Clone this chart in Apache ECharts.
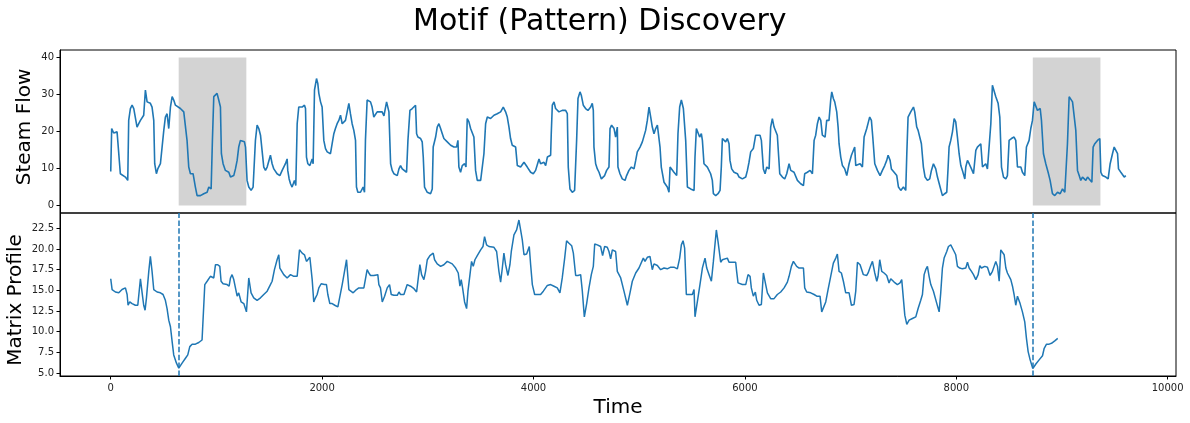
<!DOCTYPE html>
<html>
<head>
<meta charset="utf-8">
<title>Motif (Pattern) Discovery</title>
<script src="https://cdn.jsdelivr.net/npm/echarts@6/dist/echarts.min.js"></script>
<style>
    html, body { margin: 0; padding: 0; background: #fff; }
    #chart { width: 1190px; height: 423px; }
</style>
</head>
<body>
<div id="chart"></div>
<script>
// steam flow: [time, flow]
var steamFlow = [
    [0,9.2],[9,20.8],[28,19.6],[60,19.9],[76,20.1],[91,8.6],[107,8.1],[139,7.7],[161,6.8],[170,23.0],
    [186,26.2],[202,27.1],[218,26.2],[233,25.7],[249,21.2],[265,22.1],[281,23.0],[297,23.5],[312,24.4],[328,31.2],
    [338,31.6],[344,28.0],[375,27.6],[391,26.6],[407,23.0],[416,11.3],[432,8.6],[445,9.9],[470,11.3],[486,15.8],
    [502,20.3],[517,23.9],[533,24.8],[549,20.8],[565,26.6],[581,29.4],[596,28.5],[612,27.1],[628,26.6],[659,26.2],
    [691,25.3],[707,24.8],[722,17.6],[738,10.4],[754,8.6],[779,8.6],[801,5.0],[817,2.7],[849,2.7],[880,3.2],
    [912,3.6],[928,5.0],[950,4.5],[962,17.6],[975,29.4],[991,29.8],[1006,30.3],[1022,28.5],[1038,26.6],[1047,14.0],
    [1063,11.3],[1085,9.5],[1101,9.9],[1117,9.0],[1133,7.7],[1164,8.1],[1180,9.9],[1196,12.2],[1211,15.8],[1227,17.6],
    [1243,18.1],[1265,17.2],[1275,15.8],[1290,6.8],[1306,5.0],[1328,4.1],[1347,5.0],[1360,5.0],[1369,17.6],[1385,21.7],
    [1401,20.8],[1417,19.0],[1432,18.5],[1448,10.4],[1464,9.5],[1480,10.4],[1495,9.9],[1511,13.6],[1527,11.3],[1543,9.9],
    [1559,9.5],[1574,8.6],[1600,8.1],[1622,9.5],[1637,10.4],[1653,11.3],[1669,12.6],[1675,9.5],[1688,7.2],[1701,5.9],
    [1716,5.0],[1738,6.8],[1751,5.4],[1764,22.1],[1779,26.6],[1795,27.1],[1811,26.6],[1833,27.1],[1843,26.2],[1852,13.1],
    [1865,11.3],[1884,10.8],[1906,12.6],[1915,11.3],[1928,31.2],[1947,34.3],[1959,33.0],[1969,30.3],[1985,28.0],[2000,26.6],
    [2016,17.6],[2032,15.4],[2048,14.5],[2079,14.0],[2095,16.7],[2111,19.4],[2126,20.8],[2142,22.1],[2158,23.0],[2174,24.4],
    [2190,22.1],[2205,22.6],[2221,23.0],[2237,25.3],[2253,27.6],[2268,24.8],[2284,22.1],[2300,20.3],[2316,17.6],[2325,5.0],
    [2338,3.6],[2363,3.6],[2388,5.0],[2401,3.6],[2410,17.6],[2426,28.5],[2442,28.9],[2458,28.0],[2473,26.6],[2489,23.9],
    [2505,24.4],[2521,25.3],[2537,24.8],[2568,25.3],[2585,24.2],[2610,28.0],[2632,25.3],[2648,11.3],[2663,9.5],[2679,8.6],
    [2711,8.1],[2727,9.9],[2742,10.8],[2758,9.9],[2774,10.4],[2799,9.0],[2812,17.6],[2831,25.7],[2853,26.2],[2869,26.6],
    [2884,27.1],[2894,19.4],[2906,18.5],[2932,18.1],[2947,17.2],[2957,13.1],[2969,5.0],[2995,3.6],[3026,3.2],[3042,4.5],
    [3051,15.8],[3074,18.5],[3089,21.2],[3105,22.1],[3121,20.8],[3137,19.4],[3152,18.1],[3184,17.2],[3216,16.3],[3247,15.8],
    [3272,15.8],[3285,17.6],[3294,10.4],[3310,9.0],[3326,10.8],[3348,11.3],[3361,10.4],[3373,23.5],[3389,22.6],[3405,20.8],
    [3436,18.5],[3452,9.5],[3468,6.8],[3500,6.8],[3515,7.2],[3531,14.0],[3547,22.1],[3563,23.9],[3594,23.5],[3626,24.4],
    [3657,24.8],[3689,25.3],[3714,26.6],[3736,25.3],[3752,23.9],[3768,21.2],[3783,18.1],[3799,16.3],[3815,15.8],[3831,15.8],
    [3847,10.8],[3878,10.4],[3910,11.7],[3941,10.4],[3973,9.0],[3998,8.6],[4020,9.5],[4052,12.6],[4067,11.3],[4099,11.7],
    [4115,10.8],[4131,13.1],[4162,13.6],[4168,19.4],[4178,27.1],[4194,28.0],[4209,26.2],[4241,25.3],[4272,25.7],[4288,26.2],
    [4304,25.7],[4320,24.8],[4329,10.4],[4345,4.5],[4367,3.6],[4389,4.1],[4408,17.6],[4421,28.9],[4440,30.7],[4452,29.8],
    [4471,27.1],[4493,26.2],[4515,25.7],[4541,26.6],[4556,27.6],[4566,25.7],[4572,15.8],[4588,11.3],[4604,9.9],[4620,9.0],
    [4642,7.2],[4657,6.8],[4673,8.1],[4692,9.5],[4714,10.4],[4724,20.8],[4739,21.7],[4762,20.8],[4777,18.5],[4793,21.2],
    [4799,10.4],[4818,8.6],[4840,7.2],[4866,6.8],[4881,8.1],[4903,9.5],[4926,10.4],[4951,9.9],[4967,12.2],[4982,14.5],
    [5008,15.8],[5030,17.2],[5045,17.6],[5061,20.3],[5077,23.0],[5093,26.6],[5109,23.9],[5124,21.2],[5140,19.4],[5156,20.8],
    [5172,21.7],[5187,21.2],[5197,15.8],[5209,10.4],[5235,6.3],[5251,5.9],[5266,5.0],[5282,3.6],[5292,10.4],[5304,10.8],
    [5329,9.0],[5355,8.1],[5367,19.4],[5383,26.6],[5399,28.5],[5418,26.2],[5430,25.7],[5440,17.6],[5456,5.0],[5487,4.5],
    [5519,4.1],[5528,13.1],[5541,20.8],[5557,20.3],[5572,18.5],[5588,19.4],[5598,17.6],[5613,11.3],[5645,10.4],[5676,8.6],
    [5692,6.8],[5702,3.2],[5724,2.7],[5746,3.2],[5765,4.1],[5777,10.4],[5787,18.1],[5803,18.5],[5818,17.2],[5834,18.1],
    [5850,16.7],[5859,12.2],[5875,9.9],[5897,9.0],[5929,8.6],[5945,7.7],[5976,7.2],[6008,7.7],[6024,9.5],[6039,11.7],
    [6055,14.5],[6080,15.4],[6102,19.0],[6118,19.4],[6143,19.0],[6156,17.6],[6175,9.9],[6191,8.6],[6207,10.4],[6229,9.9],
    [6244,21.2],[6260,23.5],[6276,21.2],[6307,19.0],[6330,8.6],[6355,7.7],[6377,7.2],[6396,8.6],[6418,11.3],[6434,9.5],
    [6465,9.0],[6481,8.6],[6497,6.8],[6528,5.9],[6554,5.4],[6566,8.6],[6591,9.0],[6617,9.5],[6639,8.6],[6655,17.6],
    [6670,19.0],[6686,22.1],[6702,23.9],[6718,23.0],[6733,19.0],[6759,18.5],[6774,23.0],[6796,23.0],[6812,28.5],[6822,30.7],
    [6837,28.9],[6850,28.0],[6869,25.3],[6882,21.2],[6891,16.7],[6907,13.1],[6923,10.8],[6945,9.9],[6964,8.1],[6986,11.3],
    [7008,13.6],[7024,14.0],[7039,15.8],[7049,10.8],[7065,10.4],[7090,11.3],[7112,10.4],[7128,18.5],[7153,20.8],[7169,22.6],
    [7181,23.9],[7197,23.0],[7210,18.5],[7229,11.3],[7254,9.5],[7279,8.1],[7301,9.5],[7323,10.8],[7342,12.2],[7355,13.6],
    [7374,12.2],[7386,9.9],[7412,9.0],[7437,8.1],[7453,5.0],[7475,4.1],[7500,5.0],[7522,4.1],[7532,14.0],[7544,23.9],
    [7569,25.3],[7595,26.6],[7607,25.3],[7626,21.2],[7639,20.3],[7658,18.1],[7670,16.7],[7689,10.4],[7705,7.7],[7727,6.8],
    [7749,7.2],[7765,9.5],[7784,11.3],[7806,9.9],[7822,7.7],[7847,5.0],[7869,2.7],[7891,3.2],[7910,3.6],[7923,10.4],
    [7932,15.8],[7948,17.6],[7964,19.9],[7980,23.5],[7995,22.6],[8011,18.5],[8027,14.0],[8043,10.8],[8058,9.5],[8081,7.2],
    [8090,10.4],[8106,12.2],[8122,11.3],[8144,9.9],[8163,8.6],[8185,14.9],[8200,15.8],[8216,16.3],[8232,16.7],[8248,10.4],
    [8264,10.4],[8279,11.3],[8295,9.9],[8311,10.4],[8327,22.1],[8342,32.5],[8358,32.5],[8374,29.4],[8396,27.6],[8412,23.9],
    [8428,10.4],[8447,7.7],[8469,7.2],[8484,8.1],[8500,17.6],[8522,18.1],[8547,18.5],[8563,17.6],[8579,10.4],[8595,9.9],
    [8611,10.4],[8626,9.0],[8648,8.1],[8664,15.8],[8689,17.6],[8705,20.8],[8721,23.0],[8737,28.0],[8753,27.6],[8768,25.7],
    [8794,26.2],[8806,23.0],[8825,14.0],[8847,11.3],[8869,9.0],[8888,6.8],[8910,3.2],[8932,2.7],[8958,3.6],[8983,3.2],
    [9005,4.5],[9027,3.6],[9043,3.2],[9052,16.7],[9068,29.4],[9084,29.8],[9100,28.0],[9115,27.6],[9131,20.3],[9147,9.5],
    [9163,8.1],[9178,6.8],[9194,7.7],[9210,7.2],[9226,6.8],[9242,7.7],[9257,7.2],[9283,6.3],[9295,15.8],[9311,16.7],
    [9336,17.6],[9358,18.1],[9368,9.0],[9383,8.1],[9415,7.7],[9437,7.2],[9456,11.3],[9478,14.0],[9494,15.8],[9510,14.9],
    [9526,14.0],[9535,9.9],[9557,9.0],[9573,8.6],[9589,7.7],[9604,8.1]
];

// matrix profile: [time, distance]
var matrixProfile = [
    [0,16.4],[13,15.1],[44,14.8],[76,14.7],[107,15.1],[123,15.3],[139,15.3],[155,14.5],[164,13.2],[180,13.6],
    [202,13.4],[233,13.2],[256,13.2],[281,16.4],[297,14.7],[312,13.2],[325,12.6],[338,14.1],[360,17.3],[375,19.1],
    [391,17.3],[407,15.1],[439,14.8],[470,14.7],[495,14.5],[517,13.8],[533,12.8],[549,11.4],[565,10.6],[581,8.8],
    [596,7.2],[622,6.2],[644,5.6],[675,6.2],[707,6.8],[729,7.2],[748,8.2],[770,8.5],[801,8.5],[833,8.7],
    [864,9.0],[880,9.2],[890,15.7],[912,16.1],[943,16.7],[959,16.9],[975,16.5],[991,18.1],[1013,18.1],[1032,17.9],
    [1044,16.1],[1063,15.8],[1101,15.7],[1120,15.5],[1133,16.5],[1148,16.9],[1164,16.3],[1180,15.3],[1196,14.3],[1211,14.7],
    [1221,14.8],[1234,13.6],[1259,13.4],[1284,12.4],[1306,16.5],[1328,14.7],[1353,14.1],[1385,13.8],[1417,14.1],[1448,14.5],
    [1480,14.9],[1511,15.7],[1527,16.1],[1549,17.5],[1574,18.7],[1590,19.3],[1600,17.7],[1612,17.5],[1637,16.9],[1669,16.5],
    [1701,16.9],[1732,16.7],[1764,16.7],[1786,19.9],[1811,19.5],[1833,19.3],[1852,18.5],[1868,18.7],[1884,19.0],[1906,16.3],
    [1921,13.6],[1937,14.1],[1953,14.5],[1969,15.3],[1991,15.8],[2022,15.7],[2041,15.7],[2054,14.5],[2073,13.4],[2095,13.4],
    [2120,13.2],[2149,13.0],[2167,13.2],[2190,15.7],[2212,17.3],[2231,18.7],[2253,15.1],[2268,14.9],[2294,14.7],[2306,14.8],
    [2325,15.1],[2347,15.3],[2395,15.3],[2410,15.5],[2426,17.5],[2442,17.1],[2458,16.8],[2489,16.8],[2527,16.9],[2537,15.7],
    [2552,15.3],[2569,13.6],[2591,14.3],[2616,15.3],[2638,15.7],[2654,14.5],[2679,14.4],[2711,14.4],[2727,14.8],[2742,14.5],
    [2774,14.5],[2805,15.7],[2837,15.5],[2869,15.2],[2894,14.8],[2925,18.1],[2941,16.9],[2963,16.3],[2979,17.3],[2995,18.7],
    [3020,19.2],[3051,19.5],[3064,18.7],[3089,18.2],[3121,17.9],[3152,18.1],[3184,18.5],[3200,18.7],[3231,18.2],[3263,17.7],
    [3288,17.1],[3304,15.5],[3316,16.3],[3329,15.3],[3348,13.6],[3367,12.8],[3380,14.9],[3399,16.9],[3414,18.5],[3430,17.9],
    [3446,18.7],[3468,19.2],[3500,19.9],[3522,20.3],[3537,21.5],[3556,20.5],[3578,20.3],[3626,20.2],[3651,19.7],[3673,17.3],
    [3689,16.0],[3705,17.7],[3720,19.5],[3736,18.1],[3758,16.8],[3777,18.1],[3790,19.7],[3815,21.7],[3840,22.3],[3862,23.5],
    [3878,22.3],[3894,21.1],[3910,19.3],[3935,19.4],[3960,20.3],[3973,18.1],[3989,15.7],[4011,14.5],[4036,14.5],[4067,14.5],
    [4093,14.9],[4131,15.6],[4162,15.7],[4194,15.5],[4225,15.3],[4250,14.7],[4272,16.5],[4295,18.9],[4313,21.0],[4336,20.7],
    [4361,20.4],[4377,19.5],[4399,16.8],[4421,16.8],[4446,16.9],[4462,14.9],[4481,11.8],[4503,13.4],[4525,15.3],[4547,16.9],
    [4566,17.9],[4579,20.6],[4604,20.5],[4635,20.3],[4654,19.2],[4673,20.3],[4698,20.2],[4714,19.7],[4730,18.8],[4746,19.9],
    [4777,19.7],[4793,17.3],[4809,17.1],[4825,16.5],[4856,14.9],[4888,13.2],[4913,14.7],[4935,16.1],[4967,17.1],[4998,17.7],
    [5039,18.9],[5055,18.5],[5077,19.0],[5102,19.1],[5124,17.5],[5140,18.2],[5172,18.0],[5203,17.5],[5235,17.7],[5266,17.6],
    [5298,17.8],[5329,17.8],[5361,17.6],[5383,18.9],[5399,20.5],[5415,21.0],[5430,20.1],[5446,14.5],[5471,14.5],[5503,14.5],
    [5519,15.1],[5528,11.8],[5550,13.6],[5575,15.7],[5598,17.7],[5613,17.5],[5623,18.9],[5639,17.7],[5661,16.9],[5683,16.1],
    [5702,18.5],[5730,22.3],[5746,20.9],[5771,18.4],[5787,18.7],[5803,18.8],[5834,18.9],[5850,18.4],[5882,18.4],[5913,18.4],
    [5922,17.3],[5935,15.9],[5976,15.7],[6008,15.7],[6030,16.9],[6049,16.7],[6061,15.3],[6080,14.3],[6099,14.8],[6112,13.8],
    [6134,13.2],[6156,13.3],[6175,17.1],[6197,15.7],[6213,14.7],[6244,14.0],[6276,14.0],[6307,14.5],[6339,14.8],[6371,15.3],
    [6402,16.0],[6418,16.7],[6440,17.9],[6459,18.5],[6471,18.6],[6490,17.9],[6513,17.7],[6554,17.7],[6566,15.3],[6585,14.8],
    [6623,14.7],[6655,14.5],[6680,14.3],[6711,14.3],[6727,12.4],[6743,12.6],[6765,13.6],[6787,15.1],[6812,16.7],[6837,18.3],
    [6860,18.9],[6875,19.4],[6891,17.3],[6913,17.1],[6932,16.1],[6954,14.7],[6970,14.9],[6986,14.7],[7008,13.2],[7033,13.3],
    [7049,14.9],[7065,18.4],[7090,18.1],[7106,17.9],[7121,16.9],[7134,17.1],[7153,16.8],[7166,17.1],[7191,18.0],[7207,18.5],
    [7229,17.1],[7248,16.1],[7260,16.7],[7276,18.7],[7295,17.3],[7317,17.1],[7342,16.8],[7364,15.9],[7380,16.4],[7412,16.0],
    [7443,15.7],[7468,15.9],[7484,16.3],[7513,12.0],[7532,10.9],[7554,11.4],[7585,11.6],[7617,11.8],[7639,12.8],[7664,13.8],
    [7680,14.5],[7696,16.9],[7711,17.5],[7727,17.9],[7743,16.7],[7759,15.7],[7784,14.9],[7816,13.4],[7838,12.4],[7853,14.7],
    [7869,17.7],[7885,18.9],[7910,19.7],[7926,20.3],[7948,20.5],[7964,20.6],[7980,19.7],[7995,19.3],[8011,17.9],[8033,17.7],
    [8058,17.6],[8090,17.7],[8106,18.4],[8122,17.7],[8144,17.3],[8163,16.9],[8185,16.3],[8207,16.9],[8223,18.0],[8238,17.7],
    [8270,17.9],[8295,17.8],[8320,16.8],[8342,17.3],[8358,17.9],[8374,18.5],[8390,17.9],[8406,16.1],[8421,19.9],[8437,19.8],
    [8453,19.3],[8469,17.7],[8484,17.1],[8500,17.1],[8516,16.3],[8532,15.5],[8547,14.5],[8563,13.2],[8579,14.3],[8588,14.5],
    [8604,13.4],[8626,12.4],[8648,11.2],[8664,9.2],[8680,7.6],[8699,6.6],[8724,5.55],[8753,6.1],[8784,6.6],[8816,7.1],
    [8832,8.0],[8854,8.5],[8879,8.5],[8901,8.6],[8932,8.9],[8960,9.2]
];

// motif pair (start times) and window length
var motifStarts = [643, 8724];
var windowLen = 640;

var timeTicks = [0, 2000, 4000, 6000, 8000, 10000];
var flowTicks = [0, 10, 20, 30, 40];
var profileTicks = [5, 7.5, 10, 12.5, 15, 17.5, 20, 22.5];

var font = 'DejaVu Sans';
var blue = '#1f77b4';

function yAxisCommon(ticks, min, max, fmt) {
    return {
        type: 'value',
        min: min,
        max: max,
        axisLine: { show: true, onZero: false, lineStyle: { color: '#000', width: 1 } },
        axisTick: { show: true, length: 3.5, customValues: ticks, lineStyle: { color: '#000', width: 1 } },
        axisLabel: { show: true, customValues: ticks, margin: 6, fontSize: 10, color: '#222', fontFamily: font, formatter: fmt },
        splitLine: { show: false }
    };
}

// rotated y-axis titles, placed like the matplotlib ylabels
function yTitle(text, x, y) {
    return {
        type: 'text',
        x: x,
        y: y,
        rotation: Math.PI / 2,
        silent: true,
        style: {
            text: text,
            fontSize: 20,
            fontFamily: font,
            fill: '#000',
            textAlign: 'center',
            textVerticalAlign: 'middle'
        }
    };
}

var chart = echarts.init(document.getElementById('chart'), null, { renderer: 'canvas' });

var option = {
    animation: false,
    backgroundColor: '#fff',
    title: {
        text: 'Motif (Pattern) Discovery',
        left: 408,
        top: 2,
        textStyle: { fontSize: 30, fontWeight: 'normal', color: '#000', fontFamily: font }
    },
    graphic: [
        yTitle('Steam Flow', 25, 127),
        yTitle('Matrix Profile', 16, 300)
    ],
    grid: [
        { left: 60, top: 50, width: 1116, height: 163, outerBoundsMode: 'none', containLabel: false,
          show: true, borderColor: '#000', borderWidth: 1, backgroundColor: 'transparent' },
        { left: 60, top: 213, width: 1116, height: 163, outerBoundsMode: 'none', containLabel: false,
          show: true, borderColor: '#000', borderWidth: 1, backgroundColor: 'transparent' }
    ],
    xAxis: [
        {
            gridIndex: 0, type: 'value', min: -480, max: 10079,
            axisLine: { show: false, onZero: false },
            axisTick: { show: false },
            axisLabel: { show: false },
            splitLine: { show: false }
        },
        {
            gridIndex: 1, type: 'value', min: -480, max: 10079,
            name: 'Time',
            nameLocation: 'middle',
            nameGap: 22,
            nameTextStyle: { fontSize: 20, color: '#000', fontFamily: font },
            axisLine: { show: true, onZero: false, lineStyle: { color: '#000', width: 1 } },
            axisTick: { show: true, length: 3.5, customValues: timeTicks, lineStyle: { color: '#000', width: 1 } },
            axisLabel: { show: true, customValues: timeTicks, margin: 7, fontSize: 10, color: '#222', fontFamily: font,
                         formatter: function (v) { return String(v); } },
            splitLine: { show: false }
        }
    ],
    yAxis: [
        Object.assign({ gridIndex: 0 }, yAxisCommon(flowTicks, -2, 42, function (v) { return String(v); })),
        Object.assign({ gridIndex: 1 }, yAxisCommon(profileTicks, 4.65, 24.35, function (v) { return v.toFixed(1); }))
    ],
    series: [
        {
            name: 'Steam Flow',
            type: 'line',
            xAxisIndex: 0,
            yAxisIndex: 0,
            data: steamFlow,
            showSymbol: false,
            symbol: 'none',
            lineStyle: { color: blue, width: 1.6 },
            silent: true,
            markArea: {
                silent: true,
                itemStyle: { color: '#d3d3d3', opacity: 1 },
                data: motifStarts.map(function (s) {
                    return [{ coord: [s, 0] }, { coord: [s + windowLen, 40] }];
                })
            },
            z: 3
        },
        {
            name: 'Matrix Profile',
            type: 'line',
            xAxisIndex: 1,
            yAxisIndex: 1,
            data: matrixProfile,
            showSymbol: false,
            symbol: 'none',
            lineStyle: { color: blue, width: 1.5 },
            silent: true,
            markLine: {
                silent: true,
                symbol: ['none', 'none'],
                label: { show: false },
                lineStyle: { color: blue, width: 1.5, type: [5.5, 2.4] },
                data: motifStarts.map(function (s) { return { xAxis: s }; })
            }
        }
    ]
};

chart.setOption(option);
</script>
</body>
</html>
